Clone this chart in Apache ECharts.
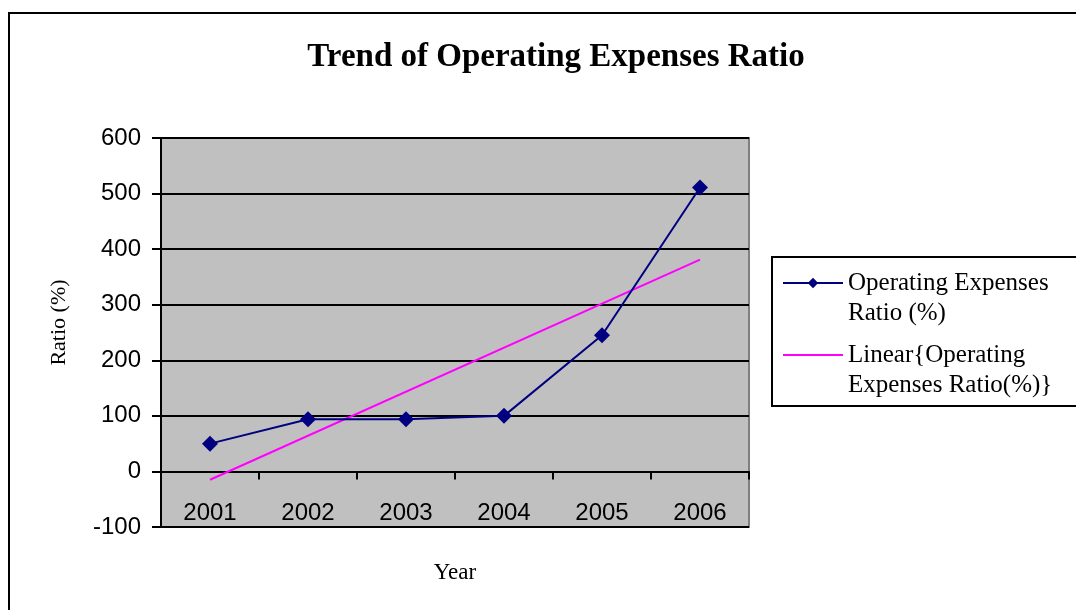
<!DOCTYPE html>
<html>
<head>
<meta charset="utf-8">
<script src="https://cdn.jsdelivr.net/npm/echarts@6/dist/echarts.min.js"></script>
<style>
  html, body { margin: 0; padding: 0; background: #ffffff; }
  #chart { width: 1076px; height: 610px; }
</style>
</head>
<body>
<div id="chart"></div>
<script>
// Years on the category axis
const years = ['2001', '2002', '2003', '2004', '2005', '2006'];
// Operating expenses ratio per year (%)
const ratioValues = [50, 94, 94, 100, 245, 511];
// Linear trend line: start and end values, straight between them
const trendValues = [-15, null, null, null, null, 381];
// Value-axis ticks
const yTicks = { min: -100, max: 600, step: 100 };

const seriesName = 'Operating Expenses Ratio (%)';
const trendName = 'Linear{Operating Expenses Ratio(%)}';
// Legend names wrap onto two lines; the leading blank line keeps the
// first text line level with the legend symbol.
const legendText = {
  [seriesName]: ' \nOperating Expenses\nRatio (%)',
  [trendName]: ' \nLinear{Operating\nExpenses Ratio(%)}'
};

const chart = echarts.init(document.getElementById('chart'), null, { renderer: 'canvas' });

chart.setOption({
  backgroundColor: '#ffffff',
  animation: false,
  title: {
    text: 'Trend of Operating Expenses Ratio',
    left: 551,
    top: 36,
    textAlign: 'center',
    textStyle: {
      fontFamily: 'Liberation Serif',
      fontWeight: 'bold',
      fontSize: 33,
      color: '#000000'
    }
  },
  graphic: [
    {
      type: 'rect',
      z: -10,
      shape: { x: 9, y: 13, width: 1100, height: 700 },
      style: { fill: 'none', stroke: '#000000', lineWidth: 2 }
    },
    {
      type: 'rect',
      z: -5,
      shape: { x: 772, y: 257, width: 320, height: 149 },
      style: { fill: '#ffffff', stroke: '#000000', lineWidth: 2 }
    }
  ],
  legend: {
    orient: 'vertical',
    left: 782,
    top: 238,
    padding: 0,
    itemWidth: 60,
    itemHeight: 13,
    itemGap: -18,
    formatter: name => legendText[name],
    textStyle: {
      fontFamily: 'Liberation Serif',
      fontSize: 25,
      lineHeight: 30,
      color: '#000000'
    },
    data: [
      { name: seriesName },
      { name: trendName, itemStyle: { color: 'rgba(0,0,0,0)', borderWidth: 0 } }
    ]
  },
  grid: {
    left: 161,
    right: 327,
    top: 138,
    bottom: 83,
    containLabel: false,
    outerBoundsMode: 'none',
    show: true,
    backgroundColor: '#c0c0c0',
    borderColor: '#808080',
    borderWidth: 2
  },
  xAxis: {
    type: 'category',
    data: years,
    boundaryGap: true,
    name: 'Year',
    nameLocation: 'middle',
    nameGap: 34,
    nameTextStyle: {
      fontFamily: 'Liberation Serif',
      fontSize: 23,
      color: '#000000'
    },
    axisLine: { onZero: true, lineStyle: { color: '#000000', width: 2 } },
    axisTick: { show: true, inside: false, length: 8, alignWithLabel: false, lineStyle: { color: '#000000', width: 2 } },
    axisLabel: {
      margin: -26,
      fontFamily: 'Liberation Sans',
      fontSize: 24,
      color: '#000000'
    },
    splitLine: { show: false }
  },
  yAxis: {
    type: 'value',
    min: yTicks.min,
    max: yTicks.max,
    interval: yTicks.step,
    name: 'Ratio (%)',
    nameLocation: 'middle',
    nameGap: 91,
    nameTextStyle: {
      fontFamily: 'Liberation Serif',
      fontSize: 22,
      color: '#000000',
      padding: [0, 0, 0, 20]
    },
    axisLine: { show: true, lineStyle: { color: '#000000', width: 2 } },
    axisTick: { show: true, inside: false, length: 9, lineStyle: { color: '#000000', width: 2 } },
    axisLabel: {
      margin: 20,
      fontFamily: 'Liberation Sans',
      fontSize: 24,
      color: '#000000'
    },
    splitLine: { show: true, lineStyle: { color: '#000000', width: 2 } }
  },
  series: [
    {
      name: seriesName,
      type: 'line',
      data: ratioValues,
      symbol: 'diamond',
      symbolSize: 16,
      lineStyle: { color: '#000080', width: 2 },
      itemStyle: { color: '#000080' },
      z: 3
    },
    {
      name: trendName,
      type: 'line',
      data: trendValues,
      connectNulls: true,
      symbol: 'none',
      lineStyle: { color: '#ff00ff', width: 2 },
      itemStyle: { color: '#ff00ff' },
      z: 2
    }
  ]
});
</script>
</body>
</html>
